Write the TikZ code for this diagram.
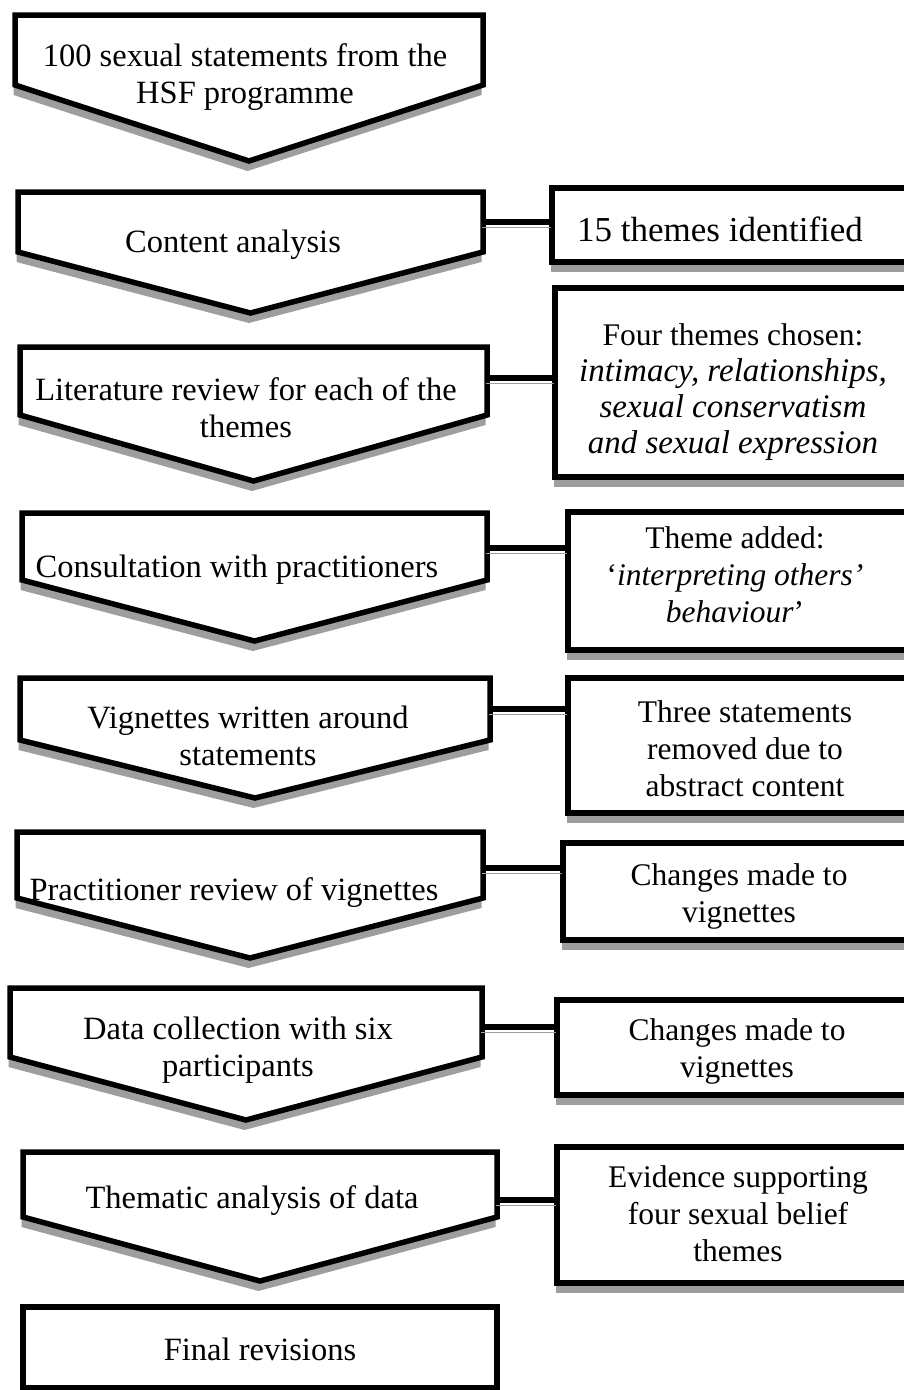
\documentclass[tikz,border=0pt]{standalone}
\usepackage{fontspec}
\setmainfont{Liberation Serif}
\usetikzlibrary{shadows}
\definecolor{shadowgray}{RGB}{158,158,158}

\begin{document}
\begin{tikzpicture}[x=1pt, y=-1pt,
    boxshadow/.style={drop shadow={shadow xshift=-1.5pt, shadow yshift=-10pt,
                      fill=shadowgray, opacity=1}},
    chev/.style={draw, line width=5.5pt, fill=white, boxshadow},
    outbox/.style={draw, line width=5.5pt, fill=white, boxshadow,
                   inner sep=0pt, outer sep=0pt},
    linkline/.style={line width=5.5pt,
                     preaction={draw=shadowgray, transform canvas={shift={(-1.5pt,-5.5pt)}}}},
    steptext/.style={align=center, inner sep=0pt, font=\fontsize{32.5}{37}\selectfont},
    outtext/.style={align=center, inner sep=0pt, font=\fontsize{31.5}{37}\selectfont}]
  \useasboundingbox (0,0) rectangle (904,1390);

  % process steps (down chevrons)
  \draw[chev] (15,15) -- (483,15) -- (483,85) -- (249,161) -- (15,85) -- cycle;
  \draw[chev] (18,192) -- (483,192) -- (483,252) -- (250.5,313) -- (18,252) -- cycle;
  \draw[chev] (20,347) -- (487,347) -- (487,415) -- (253.5,481) -- (20,415) -- cycle;
  \draw[chev] (22,513) -- (487,513) -- (487,580) -- (254.5,641) -- (22,580) -- cycle;
  \draw[chev] (20,678) -- (490,678) -- (490,740) -- (255,798) -- (20,740) -- cycle;
  \draw[chev] (17,832) -- (483,832) -- (483,898) -- (250,958) -- (17,898) -- cycle;
  \draw[chev] (10,988) -- (482,988) -- (482,1057) -- (246,1120) -- (10,1057) -- cycle;
  \draw[chev] (23,1152) -- (497,1152) -- (497,1217) -- (260,1281) -- (23,1217) -- cycle;
  \node[outbox, minimum width=474pt, minimum height=81pt] (fin) at (260,1347.5) {};

  \node[steptext] (t1) at (245,77.5) {100 sexual statements from the\\HSF programme};
  \node[steptext] (t2) at (233,244.5) {Content analysis};
  \node[steptext] (t3) at (246,407.5) {Literature review for each of the\\themes};
  \node[steptext] (t4) at (237,569.5) {Consultation with practitioners};
  \node[steptext] (t5) at (248,735.5) {Vignettes written around\\statements};
  \node[steptext] (t6) at (234,893) {Practitioner review of vignettes};
  \node[steptext] (t7) at (238,1050.5) {Data collection with six\\participants};
  \node[steptext] (t8) at (252,1201) {Thematic analysis of data};
  \node[steptext] (t9) at (260,1349) {Final revisions};

  % outcomes
  \node[outbox, minimum width=358pt, minimum height=74pt]  (r1) at (731,225) {};
  \node[outbox, minimum width=355pt, minimum height=189pt] (r2) at (732.5,382.5) {};
  \node[outbox, minimum width=342pt, minimum height=138pt] (r3) at (739,581) {};
  \node[outbox, minimum width=342pt, minimum height=135pt] (r4) at (739,745.5) {};
  \node[outbox, minimum width=347pt, minimum height=97pt]  (r5) at (736.5,891.5) {};
  \node[outbox, minimum width=353pt, minimum height=95pt]  (r6) at (733.5,1047.5) {};
  \node[outbox, minimum width=353pt, minimum height=136pt] (r7) at (733.5,1215) {};

  \node[outtext, font=\fontsize{35}{37}\selectfont] (u1) at (720,229) {15 themes identified};
  \node[outtext, font=\fontsize{33}{36}\selectfont] (u2) at (733,392)
       {{\fontsize{31.5}{36}\selectfont Four themes chosen:}\\\textit{intimacy, relationships,}\\
        \textit{sexual conservatism}\\\textit{and sexual expression}};
  \node[outtext] (u3) at (735,575)
       {Theme added:\\`\textit{interpreting others'}\\\textit{behaviour}'};
  \node[outtext] (u4) at (745,749) {Three statements\\removed due to\\abstract content};
  \node[outtext] (u5) at (739,896.5) {Changes made to\\vignettes};
  \node[outtext] (u6) at (737,1051) {Changes made to\\vignettes};
  \node[outtext] (u7) at (738,1214) {Evidence supporting\\four sexual belief\\themes};

  % links from steps to outcomes
  \coordinate (c2) at (483,222);
  \coordinate (c3) at (487,378);
  \coordinate (c4) at (487,548);
  \coordinate (c5) at (490,709);
  \coordinate (c6) at (483,868);
  \coordinate (c7) at (482,1027);
  \coordinate (c8) at (497,1200);
  \draw[linkline] (c2) -- (c2 -| r1.west);
  \draw[linkline] (c3) -- (c3 -| r2.west);
  \draw[linkline] (c4) -- (c4 -| r3.west);
  \draw[linkline] (c5) -- (c5 -| r4.west);
  \draw[linkline] (c6) -- (c6 -| r5.west);
  \draw[linkline] (c7) -- (c7 -| r6.west);
  \draw[linkline] (c8) -- (c8 -| r7.west);
\end{tikzpicture}
\end{document}
